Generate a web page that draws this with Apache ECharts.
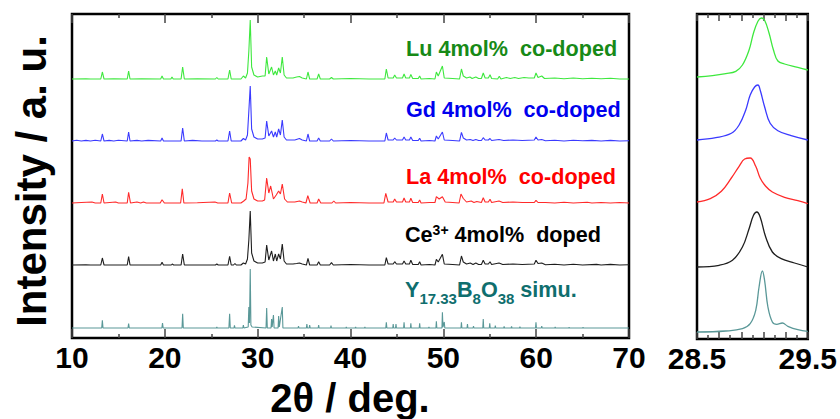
<!DOCTYPE html>
<html><head><meta charset="utf-8">
<script src="https://cdn.jsdelivr.net/npm/echarts@6/dist/echarts.min.js"></script>
<style>html,body{margin:0;padding:0;background:#fff}#c{width:840px;height:419px}</style>
</head><body><div id="c"></div>
<script>
// ---- data (2θ in degrees, intensity in arbitrary units) ----
const seriesNames = ['Lu 4mol%  co-doped', 'Gd 4mol%  co-doped', 'La 4mol%  co-doped', 'Ce3+ 4mol%  doped', 'Y17.33B8O38 simu.'];
const wideTicks = [10, 20, 30, 40, 50, 60, 70];
const zoomTicks = [28.5, 29.5];

const lu = [[10,0],[11.5,0.3],[12,0],[13.1,0],[13.27,7],[13.45,0],[14.5,0.3],[15.95,0],[16.1,8],[16.25,0],[17.5,0.3],[19.55,0],[19.7,3],[19.85,0],[20.65,0],[20.77,2],[20.9,0],[21.75,0],[21.92,12],[22.1,0],[23.5,0.3],[25.45,0],[25.6,1.5],[25.75,0],[26.8,0],[26.98,9],[27.15,0],[28.2,0],[28.46,3],[28.7,1],[28.9,6],[29.05,28],[29.2,59],[29.35,12],[29.6,4],[30.0,2],[30.5,3],[30.8,3],[30.97,22],[31.2,5],[31.5,12],[31.7,4],[31.9,8],[32.05,4],[32.26,11],[32.45,6],[32.65,22],[32.85,4],[33.1,1],[33.8,1],[34.2,2],[34.5,2.5],[34.8,1],[35.25,0],[35.42,7],[35.6,0],[36.4,0],[36.57,5],[36.75,0],[37.75,0],[37.95,1.5],[38.15,0],[40,0.5],[42,0],[43.7,0],[43.86,10],[44.05,1],[44.6,1],[44.76,4],[44.95,1],[45.6,1],[45.77,5],[45.95,1],[46.35,1],[46.5,4.5],[46.7,0.5],[47.3,0.5],[47.45,3],[47.6,0],[48.5,0.5],[49.1,0],[49.25,7],[49.45,3],[49.9,13],[50.1,1],[51.0,0.5],[51.75,0],[51.95,10],[52.15,3],[52.5,1],[52.87,2],[53.1,0.5],[53.5,2],[53.8,0.5],[54.1,0.5],[54.3,6],[54.5,1],[54.85,1],[55.03,4.3],[55.2,0.5],[55.85,0],[56.03,2.7],[56.2,0],[56.8,1.5],[57.2,0.5],[57.7,1.5],[58.1,0.5],[58.7,1.5],[59.2,1],[59.8,1],[59.98,6],[60.2,1.5],[60.6,3],[60.9,0.5],[62,1],[63,0.3],[64,1],[65,0.3],[66,0.8],[67,0.3],[68,0.8],[69,0],[70,0]];
const gd = [[10,0],[10.5,0.8],[11,0],[11.5,0.6],[12,0],[12.5,0.8],[13.1,0],[13.27,7],[13.45,0],[14,0.6],[14.5,0],[15,0.7],[15.95,0],[16.1,9],[16.25,0],[17,0.6],[17.5,0],[18.2,0.6],[19.55,0],[19.7,3],[19.85,0],[21.75,0],[21.92,13],[22.1,0],[23,0.6],[24,0],[25.45,0],[25.6,1],[25.75,0],[26.8,0],[26.98,10],[27.15,0],[28.2,0],[28.46,2.5],[28.7,1],[28.9,6],[29.05,30],[29.2,55],[29.35,12],[29.6,4],[30.0,2],[30.5,2],[30.8,3],[30.97,20],[31.2,5],[31.5,10],[31.7,4],[31.9,9],[32.05,4],[32.26,12],[32.45,6],[32.65,21],[32.85,4],[33.1,1],[34.0,1],[34.5,2.5],[34.8,1],[35.25,0],[35.42,7],[35.6,0],[36.4,0],[36.57,3],[36.75,0],[37.75,0],[37.95,2],[38.15,0],[40,0.5],[42,0],[43.7,0],[43.86,8],[44.05,1],[44.6,1],[44.76,3],[44.95,1],[45.6,1],[45.77,4],[45.95,1],[46.35,1],[46.5,4],[46.7,0.5],[47.3,0.5],[47.45,2.7],[47.6,0],[48.5,0.5],[49.1,0],[49.25,5],[49.45,2],[49.9,9],[50.1,1],[51.0,0.5],[51.75,0],[51.95,8.7],[52.15,3],[52.5,1],[52.9,1.5],[53.2,0.5],[53.5,1.5],[53.8,0.5],[54.1,0.5],[54.3,3.3],[54.5,1],[54.85,1],[55.03,2.5],[55.2,0.5],[56,1.5],[56.5,0.5],[57.5,1],[58.5,0.5],[59.8,1],[59.98,4],[60.2,1],[60.6,1.5],[61,0.3],[62,0.8],[63,0],[64,0.8],[65,0.2],[66,0.6],[67,0],[68,0.6],[69,0],[70,0.3]];
const la = [[10,0],[11,0.5],[12.15,1],[12.5,0],[13.1,0],[13.27,9],[13.45,0],[14.7,1],[15,0],[15.95,0],[16.1,10.7],[16.3,0],[17,1],[17.4,0],[17.7,1],[18,0],[19.5,0],[19.7,3.3],[19.95,0],[21.7,0],[21.88,14.3],[22.05,0],[23.5,0.3],[25.4,1],[25.7,0],[26.8,0],[26.98,10],[27.2,0],[28.2,0],[28.5,2],[28.75,4],[28.95,20],[29.08,46],[29.2,44],[29.35,12],[29.6,4],[30.0,2],[30.5,2],[30.75,3],[30.97,25],[31.2,10],[31.4,17],[31.7,4],[32.0,8],[32.26,12],[32.45,9],[32.65,19],[32.9,4],[33.2,1],[34.0,1],[34.5,2],[34.8,1],[35.2,0],[35.4,7.3],[35.65,0],[36.4,0],[36.57,4],[36.8,0],[38.0,0],[38.2,2],[38.4,0],[40,0.5],[42,0],[43.6,0],[43.8,9.7],[44.05,1],[44.6,1],[44.76,4],[44.95,1],[45.6,1],[45.77,5],[45.95,1],[46.35,1],[46.5,4.7],[46.7,0.5],[47.3,0.5],[47.45,3],[47.6,0],[48.5,0.5],[49.1,0.5],[49.25,6.3],[49.55,4],[49.9,6.3],[50.2,1],[51.0,0.5],[51.7,0],[51.9,9],[52.15,4.5],[52.5,1],[53.0,2],[53.3,0.5],[53.6,1.5],[54.1,0.5],[54.3,5.3],[54.5,1],[54.85,1],[55.03,3.7],[55.2,0.5],[56,2],[56.4,0.5],[57.5,1],[58.5,0.5],[59.8,0.5],[59.98,2.7],[60.2,0.5],[61,0.5],[62,0],[63,0.8],[64,0],[65.5,0.7],[66,0],[67,0.5],[68,0],[69,0.5],[70,0]];
const ce = [[10,0],[11.5,0.3],[12,0],[13.1,0],[13.27,7],[13.45,0],[15.95,0],[16.1,8.3],[16.25,0],[19.55,0],[19.7,2.7],[19.85,0],[20.7,0],[20.8,1],[20.95,0],[21.75,0],[21.92,11],[22.1,0],[25.45,0],[25.6,1],[25.75,0],[26.8,0],[26.98,8.7],[27.15,0],[27.4,0],[27.55,1.5],[27.7,0],[28.2,0],[28.46,2],[28.7,1],[28.9,6],[29.05,25],[29.2,54],[29.35,12],[29.6,4],[30.0,2],[30.5,2],[30.8,3],[30.97,20],[31.2,5],[31.5,14],[31.7,4],[31.9,11],[32.05,4],[32.26,11],[32.45,6],[32.65,21],[32.85,4],[33.1,1],[33.8,1],[34.2,1.5],[34.5,2],[34.8,1],[35.25,0],[35.42,6.7],[35.6,0],[36.4,0],[36.57,3.3],[36.75,0],[37.75,0],[37.95,2.3],[38.15,0],[40,0.5],[42,0],[43.7,0],[43.86,7.3],[44.05,1],[44.6,1],[44.76,3.3],[44.95,1],[45.6,1],[45.77,4],[45.95,1],[46.35,1],[46.5,4.7],[46.7,0.5],[47.3,0.5],[47.45,3.3],[47.6,0],[48.5,0.5],[49.1,0],[49.25,5.7],[49.45,3],[49.9,10.7],[50.1,1],[51.0,0.5],[51.75,0],[51.95,9],[52.15,3],[52.5,1],[52.9,2],[53.2,0.5],[53.5,2],[53.8,0.5],[54.1,0.5],[54.3,4.7],[54.5,1],[54.85,1],[55.03,3.3],[55.2,0.5],[56,2],[56.4,0.5],[57.5,1],[58.5,0.5],[59.8,1],[59.98,4.7],[60.2,1.5],[60.6,2],[61,0.3],[62,0.8],[63,0],[64,0.8],[65,0],[66.5,0.6],[67,0],[68,0.6],[69,0],[70,0.3]];
const simu = [[10,0],[13.2,0],[13.27,7.7],[13.34,0],[16.03,0],[16.1,4.3],[16.17,0],[19.68,0],[19.75,5],[19.82,0],[21.85,0],[21.92,14.3],[21.99,0],[25.55,0],[25.6,1],[25.65,0],[26.9,0],[26.98,14.3],[27.05,0],[27.45,0],[27.5,2.7],[27.56,0],[28.4,0],[28.46,3],[28.52,0],[28.98,1],[29.05,21],[29.12,5],[29.2,59],[29.27,3],[29.4,1],[30.9,0],[30.97,20],[31.04,0],[31.44,0],[31.5,9],[31.56,1],[31.7,13],[31.77,0],[32.2,0],[32.26,12],[32.33,1],[32.65,21],[32.72,0],[34.35,0],[34.4,2],[34.45,0],[35.25,0],[35.3,4],[35.36,0],[35.55,0],[35.6,3],[35.66,0],[36.52,0],[36.57,3],[36.62,0],[37.85,0],[37.9,2.3],[37.95,0],[39.5,0],[39.55,1],[39.6,0],[40.5,0],[40.55,1],[40.6,0],[41.5,0],[41.55,1],[41.6,0],[43.8,0],[43.86,5.7],[43.92,0],[44.55,0],[44.6,4],[44.65,0],[44.85,0],[44.9,4],[44.95,0],[45.72,0],[45.77,5.7],[45.82,0],[46.45,0],[46.5,4.7],[46.55,0],[47.4,0],[47.45,4.7],[47.5,0],[48.4,0],[48.45,1],[48.5,0],[49.2,0],[49.25,6.7],[49.3,0],[49.85,0],[49.9,15.7],[49.96,1],[50.1,6],[50.16,0],[51.9,0],[51.95,5.7],[52.0,0],[52.55,0],[52.6,4],[52.65,0],[53.2,0],[53.25,2],[53.3,0],[54.25,0],[54.3,9],[54.35,0],[54.95,0],[55.0,4.7],[55.05,0],[55.55,0],[55.6,2.5],[55.65,0],[56.5,0],[56.55,1.5],[56.6,0],[57.3,0],[57.35,1.5],[57.4,0],[58.2,0],[58.25,1.2],[58.3,0],[59.93,0],[59.98,5.7],[60.03,0],[60.55,0],[60.6,2],[60.65,0],[62,0],[62.05,1],[62.1,0],[63.5,0],[63.55,0.8],[63.6,0],[65,0],[65.05,0.8],[65.1,0],[70,0]];

// zoomed main reflection (28.5 – 29.5°)
const luZoom = [[28.5,0],[28.64,1.3],[28.76,3.3],[28.85,5.7],[28.91,12],[28.97,27],[29.01,44],[29.05,55.7],[29.08,59],[29.11,56.7],[29.15,44],[29.19,27],[29.23,16],[29.29,13],[29.41,9.7],[29.5,7]];
const gdZoom = [[28.5,0],[28.67,2.3],[28.81,6.7],[28.88,15],[28.94,30],[28.98,45],[29.02,53],[29.05,55],[29.07,50],[29.11,33.3],[29.16,16.7],[29.23,9.3],[29.35,4.3],[29.5,0]];
const laZoom = [[28.5,0],[28.62,3.3],[28.72,10.7],[28.81,24],[28.88,35.7],[28.93,43],[28.98,44],[29.03,35.7],[29.07,24],[29.12,15.7],[29.18,10],[29.29,4.7],[29.41,1.3],[29.5,-1.7]];
const ceZoom = [[28.5,0],[28.7,1.7],[28.82,6.7],[28.91,20],[28.97,38.3],[29.01,51.7],[29.04,55],[29.07,50],[29.12,30],[29.18,15],[29.26,8.3],[29.38,4],[29.5,0]];
const simuZoom = [[28.5,0],[28.76,1],[28.91,3.3],[28.98,8.3],[29.03,21.7],[29.06,45],[29.09,61],[29.11,51.7],[29.14,25],[29.18,10],[29.22,7.7],[29.27,9],[29.32,5.7],[29.41,2.3],[29.5,0.7]];

// vertical stacking offsets of the traces
const wideOffsets = [259, 197, 135, 73, 10];
const zoomOffsets = [262, 199, 137, 72, 7];

const wideSets = [lu, gd, la, ce, simu];
const zoomSets = [luZoom, gdZoom, laZoom, ceZoom, simuZoom];
const lineColors = ['#3ee83e', '#3a3aff', '#ff2a2a', '#1e1e1e', '#5a9898'];
const textColors = ['#178a17', '#0000ee', '#ff0000', '#000000', '#0f6e6e'];

const chart = echarts.init(document.getElementById('c'), null, {renderer: 'svg'});
const fam = '"Liberation Sans", Arial, sans-serif';

function shift(arr, off) { return arr.map(p => [p[0], p[1] + off]); }

const series = [];
wideSets.forEach((d, i) => series.push({
  type: 'line', xAxisIndex: 0, yAxisIndex: 0, data: shift(d, wideOffsets[i]),
  showSymbol: false, symbol: 'none', lineStyle: {color: lineColors[i], width: 1.1}, animation: false, z: 3
}));
zoomSets.forEach((d, i) => series.push({
  type: 'line', xAxisIndex: 2, yAxisIndex: 1, data: shift(d, zoomOffsets[i]),
  showSymbol: false, symbol: 'none', smooth: 0.4, lineStyle: {color: lineColors[i], width: 1.3}, animation: false, z: 3
}));

// text pieces with sub/superscripts, laid out with measured widths
const meas = document.createElement('canvas').getContext('2d');
function pieceLine(parts, x0, baseline, color) {
  const out = [];
  let x = x0;
  parts.forEach(p => {
    const font = 'bold ' + p.size + 'px ' + fam;
    meas.font = font;
    const w = meas.measureText(p.t).width;
    const b = baseline + p.dy;
    out.push({type: 'text', x: x, y: b - 0.3465 * p.size, silent: true,
      style: {text: p.t, fill: color, font: font, align: 'left', verticalAlign: 'middle'}});
    x += w;
  });
  return out;
}
const M = 21.6, S = 15;
const graphics = [];
[[seriesNames[0], 56], [seriesNames[1], 117.3], [seriesNames[2], 184]].forEach((s, i) => {
  graphics.push(...pieceLine([{t: s[0], size: M, dy: 0}], 406, s[1], textColors[i]));
});
graphics.push(...pieceLine([{t: 'Ce', size: M, dy: 0}, {t: '3+', size: 14, dy: -7}, {t: ' 4mol%  doped', size: M, dy: 0}], 405, 241.7, textColors[3]));
graphics.push(...pieceLine([{t: 'Y', size: M, dy: 0}, {t: '17.33', size: S, dy: 7}, {t: 'B', size: M, dy: 0}, {t: '8', size: S, dy: 7},
  {t: 'O', size: M, dy: 0}, {t: '38', size: S, dy: 7}, {t: ' simu.', size: M, dy: 0}], 405, 296.7, textColors[4]));
graphics.push({type: 'text', x: 31, y: 181, rotation: Math.PI / 2, silent: true,
  style: {text: 'Intensity / a. u.', fill: '#000', font: 'bold 42px ' + fam, align: 'center', verticalAlign: 'middle'}});
graphics.push({type: 'text', x: 350, y: 398, silent: true,
  style: {text: '2θ / deg.', fill: '#000', font: 'bold 40px ' + fam, align: 'center', verticalAlign: 'middle'}});

const labelStyle = {fontFamily: fam, fontWeight: 'bold', fontSize: 30, color: '#000'};
const tickStyle = {color: '#444', width: 1.5};

chart.setOption({
  animation: false,
  grid: [
    {left: 72, top: 14, width: 557, height: 324, show: true, borderColor: '#000', borderWidth: 2.5, backgroundColor: 'transparent'},
    {left: 697, top: 14, width: 113, height: 325, show: true, borderColor: '#000', borderWidth: 2.5, backgroundColor: 'transparent'}
  ],
  xAxis: [
    {gridIndex: 0, type: 'value', min: 10, max: 70, interval: 10, position: 'bottom',
     axisLine: {show: false}, splitLine: {show: false},
     axisTick: {inside: true, length: 9, lineStyle: tickStyle},
     minorTick: {show: true, splitNumber: 2, length: 4, lineStyle: tickStyle},
     axisLabel: Object.assign({margin: 4, formatter: v => wideTicks.includes(v) ? String(v) : ''}, labelStyle)},
    {gridIndex: 0, type: 'value', min: 10, max: 70, interval: 10, position: 'top',
     axisLine: {show: false}, splitLine: {show: false}, axisLabel: {show: false},
     axisTick: {inside: true, length: 9, lineStyle: tickStyle},
     minorTick: {show: true, splitNumber: 2, length: 4, lineStyle: tickStyle}},
    {gridIndex: 1, type: 'value', min: 28.5, max: 29.5, interval: 0.2, position: 'bottom',
     axisLine: {show: false}, splitLine: {show: false},
     axisTick: {inside: true, length: 7, lineStyle: tickStyle},
     minorTick: {show: true, splitNumber: 2, length: 4, lineStyle: tickStyle},
     axisLabel: Object.assign({margin: 4, showMinLabel: true, showMaxLabel: true,
       formatter: v => zoomTicks.some(t => Math.abs(t - v) < 1e-6) ? v.toFixed(1) : ''}, labelStyle)},
    {gridIndex: 1, type: 'value', min: 28.5, max: 29.5, interval: 0.2, position: 'top',
     axisLine: {show: false}, splitLine: {show: false}, axisLabel: {show: false},
     axisTick: {inside: true, length: 7, lineStyle: tickStyle},
     minorTick: {show: true, splitNumber: 2, length: 4, lineStyle: tickStyle}}
  ],
  yAxis: [
    {gridIndex: 0, type: 'value', min: 0, max: 324, show: false},
    {gridIndex: 1, type: 'value', min: 0, max: 325, show: false}
  ],
  series: series,
  graphic: graphics
});
</script></body></html>
